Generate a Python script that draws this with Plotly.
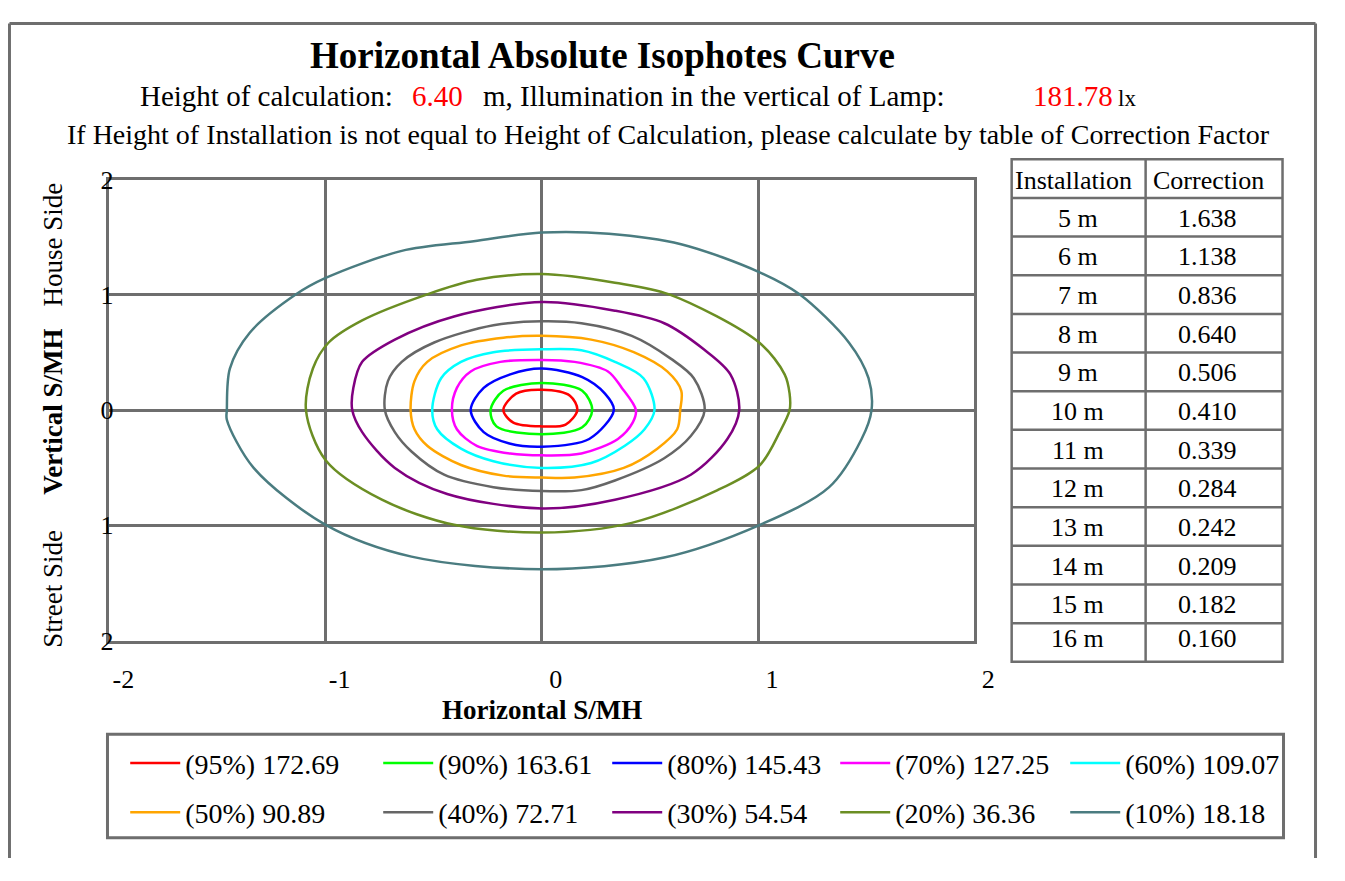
import plotly.graph_objects as go

# page is 1345x881; the browser keeps its default 8px body margin, so the figure is 16px smaller
PAGE_W, PAGE_H = 1345, 881
OFF = 8
FW, FH = PAGE_W - 2 * OFF, PAGE_H - 2 * OFF
FONT = "Liberation Serif"
GRID = "#6e6e6e"


def px(x):
    return (x - OFF) / FW


def py(y):
    return 1 - (y - OFF) / FH


# ---------------- data ----------------
level_labels = ["(95%) 172.69", "(90%) 163.61", "(80%) 145.43", "(70%) 127.25", "(60%) 109.07",
                "(50%) 90.89", "(40%) 72.71", "(30%) 54.54", "(20%) 36.36", "(10%) 18.18"]
level_colors = ["#ff0000", "#00ff00", "#0000ff", "#ff00ff", "#00ffff",
                "#ffa500", "#666666", "#800080", "#6b8e23", "#4a7c80"]

x_95 = [0.164, 0.13, 0.0, -0.119, -0.178, -0.132, 0.0, 0.11]
y_95 = [0.0, 0.125, 0.176, 0.142, 0.0, -0.109, -0.142, -0.126]

x_90 = [0.233, 0.187, 0.0, -0.178, -0.237, -0.21, 0.0, 0.187]
y_90 = [0.0, 0.167, 0.234, 0.167, 0.0, -0.142, -0.209, -0.15]

x_80 = [0.333, 0.292, 0.187, 0.0, -0.146, -0.269, -0.329, -0.269, -0.15, 0.0, 0.219]
y_80 = [0.0, 0.142, 0.285, 0.36, 0.31, 0.192, 0.0, -0.192, -0.29, -0.318, -0.251]

x_70 = [0.435, 0.37, 0.306, 0.151, 0.0, -0.192, -0.329, -0.393, -0.416, -0.393, -0.301, -0.146, 0.0, 0.183, 0.352, 0.42]
y_70 = [0.0, 0.192, 0.335, 0.418, 0.435, 0.418, 0.335, 0.192, 0.0, -0.167, -0.31, -0.377, -0.393, -0.377, -0.251, -0.11]

x_60 = [0.521, 0.47, 0.338, 0.183, 0.0, -0.224, -0.374, -0.466, -0.507, -0.484, -0.374, -0.224, 0.0, 0.228, 0.384, 0.475]
y_60 = [0.0, 0.276, 0.418, 0.519, 0.527, 0.502, 0.418, 0.276, 0.0, -0.167, -0.335, -0.444, -0.502, -0.46, -0.31, -0.167]

x_50 = [0.64, 0.645, 0.58, 0.425, 0.228, 0.0, -0.178, -0.374, -0.53, -0.589, -0.607, -0.589, -0.53, -0.374, -0.178, 0.0, 0.151, 0.379, 0.534, 0.626]
y_50 = [0.0, 0.167, 0.335, 0.502, 0.611, 0.644, 0.628, 0.561, 0.418, 0.251, 0.0, -0.167, -0.31, -0.477, -0.569, -0.586, -0.586, -0.502, -0.335, -0.167]

x_40 = [0.753, 0.703, 0.598, 0.416, 0.183, 0.0, -0.224, -0.498, -0.648, -0.712, -0.726, -0.68, -0.603, -0.452, -0.224, 0.0, 0.183, 0.338, 0.566, 0.689]
y_40 = [0.0, 0.276, 0.444, 0.644, 0.753, 0.77, 0.736, 0.586, 0.418, 0.251, 0.0, -0.192, -0.36, -0.561, -0.669, -0.703, -0.695, -0.611, -0.418, -0.226]

x_30 = [0.913, 0.872, 0.749, 0.566, 0.338, 0.0, -0.406, -0.68, -0.831, -0.872, -0.877, -0.831, -0.68, -0.438, 0.0, 0.338, 0.689, 0.858]
y_30 = [0.0, 0.31, 0.527, 0.753, 0.862, 0.937, 0.812, 0.611, 0.418, 0.192, 0.0, -0.192, -0.502, -0.728, -0.854, -0.778, -0.561, -0.251]

x_20 = [1.146, 1.146, 1.123, 1.005, 0.589, 0.338, 0.0, -0.301, -0.53, -0.831, -0.986, -1.059, -1.091, -1.0, -0.74, -0.406, 0.0, 0.416, 0.813, 1.009, 1.1]
y_20 = [0.0, 0.142, 0.31, 0.586, 1.004, 1.105, 1.18, 1.13, 1.004, 0.778, 0.586, 0.36, 0.0, -0.435, -0.778, -0.996, -1.063, -0.979, -0.695, -0.477, -0.192]

x_10 = [1.525, 1.511, 1.42, 1.192, 1.005, 0.644, 0.31, 0.0, -0.315, -0.648, -1.0, -1.137, -1.352, -1.443, -1.457, -1.457, -1.333, -1.0, -0.603, 0.0, 0.566, 1.009, 1.329, 1.479]
y_10 = [0.0, 0.276, 0.586, 1.004, 1.197, 1.439, 1.53, 1.54, 1.465, 1.381, 1.146, 1.004, 0.669, 0.36, 0.0, -0.084, -0.502, -0.996, -1.272, -1.381, -1.28, -0.996, -0.669, -0.251]

curves_x = [x_95, x_90, x_80, x_70, x_60, x_50, x_40, x_30, x_20, x_10]
curves_y = [y_95, y_90, y_80, y_70, y_60, y_50, y_40, y_30, y_20, y_10]

x_ticks = [-2, -1, 0, 1, 2]
x_tick_text = ["-2", "-1", "0", "1", "2"]
y_ticks = [2, 1, 0, -1, -2]
y_tick_text = ["2", "1", "0", "1", "2"]

table_header = ["Installation", "Correction"]
install_heights = ["5 m", "6 m", "7 m", "8 m", "9 m", "10 m", "11 m", "12 m", "13 m", "14 m", "15 m", "16 m"]
correction_factors = ["1.638", "1.138", "0.836", "0.640", "0.506", "0.410", "0.339", "0.284", "0.242", "0.209", "0.182", "0.160"]

calc_height = "6.40"
lamp_illum = "181.78"

# ---------------- figure ----------------
fig = go.Figure()

col_widths = [188, 164, 163, 165, 165]

order = list(range(len(level_labels)))[::-1]  # draw outer first, inner on top
for i in order:
    xs = curves_x[i] + curves_x[i][:1]
    ys = curves_y[i] + curves_y[i][:1]
    fig.add_trace(go.Scatter(
        x=xs, y=ys, mode="lines",
        name=level_labels[i],
        line=dict(color=level_colors[i], width=2.5, shape="spline", smoothing=0.9),
        legend="legend" if i < 5 else "legend2",
        legendrank=i,
        legendwidth=col_widths[i % 5],
        hoverinfo="skip",
    ))

annotations = []

annotations.append(dict(text="<b>Horizontal Absolute Isophotes Curve</b>", x=px(612), y=py(43),
                        xref="paper", yref="paper", showarrow=False, xanchor="center", yanchor="middle",
                        font=dict(family=FONT, size=37, color="black")))
sub_parts = [
    ("Height of calculation:", 140, "black", 29),
    (calc_height, 416, "#ff0000", 29),
    ("m, Illumination in the vertical of Lamp:", 488, "black", 29),
    (lamp_illum, 1047, "#ff0000", 29),
    ("lx", 1133, "black", 23),
]
for txt, xl, col, sz in sub_parts:
    annotations.append(dict(text=txt, x=px(xl), y=py(85 if sz > 25 else 87), xref="paper", yref="paper",
                            showarrow=False, xanchor="left", yanchor="middle",
                            font=dict(family=FONT, size=sz, color=col)))
annotations.append(dict(text="If Height of Installation is not equal to Height of Calculation, please calculate by table of Correction Factor",
                        x=px(679), y=py(124), xref="paper", yref="paper", showarrow=False,
                        xanchor="center", yanchor="middle", font=dict(family=FONT, size=28, color="black")))

annotations.append(dict(text="<b>Horizontal S/MH</b>", x=px(550), y=py(720), xref="paper", yref="paper",
                        showarrow=False, xanchor="center", yanchor="middle",
                        font=dict(family=FONT, size=27, color="black")))
for txt, yc in [("House Side", 238), ("<b>Vertical S/MH</b>", 411), ("Street Side", 594)]:
    annotations.append(dict(text=txt, x=px(54), y=py(yc), xref="paper", yref="paper", textangle=-90,
                            showarrow=False, xanchor="center", yanchor="middle",
                            font=dict(family=FONT, size=27, color="black")))

# correction-factor table
T_L, T_R, T_MID, T_TOP, T_BOT, ROW_H = 1027, 1302, 1163, 150, 670, 40
shapes = []
shapes.append(dict(type="rect", xref="paper", yref="paper", x0=px(T_L), x1=px(T_R), y0=py(T_BOT), y1=py(T_TOP),
                   line=dict(color=GRID, width=2.5)))
shapes.append(dict(type="line", xref="paper", yref="paper", x0=px(T_MID), x1=px(T_MID), y0=py(T_BOT), y1=py(T_TOP),
                   line=dict(color=GRID, width=2.5)))
for k in range(1, len(install_heights) + 1):
    yy = T_TOP + ROW_H * k
    shapes.append(dict(type="line", xref="paper", yref="paper", x0=px(T_L), x1=px(T_R), y0=py(yy), y1=py(yy),
                       line=dict(color=GRID, width=2.5)))
annotations.append(dict(text=table_header[0], x=px(1090), y=py(172), xref="paper", yref="paper", showarrow=False,
                        xanchor="center", yanchor="middle", font=dict(family=FONT, size=26, color="black")))
annotations.append(dict(text=table_header[1], x=px(1227), y=py(172), xref="paper", yref="paper", showarrow=False,
                        xanchor="center", yanchor="middle", font=dict(family=FONT, size=26, color="black")))
for k, (hgt, cf) in enumerate(zip(install_heights, correction_factors)):
    yc = T_TOP + ROW_H * (k + 1) + 21
    if k == len(install_heights) - 1:
        yc -= 5
    annotations.append(dict(text=hgt, x=px(1094), y=py(yc), xref="paper", yref="paper", showarrow=False,
                            xanchor="center", yanchor="middle", font=dict(family=FONT, size=26, color="black")))
    annotations.append(dict(text=cf, x=px(1226), y=py(yc), xref="paper", yref="paper", showarrow=False,
                            xanchor="center", yanchor="middle", font=dict(family=FONT, size=26, color="black")))

# outer frame (left, top, right; open at the bottom) kept inside the figure
fl, fr, ft = 1.5 / FW, 1 - 1.5 / FW, 1 - 1.5 / FH
for x0, y0, x1, y1 in [(fl, 0, fl, ft), (fl, ft, fr, ft), (fr, ft, fr, 0)]:
    shapes.append(dict(type="line", xref="paper", yref="paper", x0=x0, y0=y0, x1=x1, y1=y1,
                       line=dict(color=GRID, width=3)))
# legend frame
shapes.append(dict(type="rect", xref="paper", yref="paper", x0=px(109), x1=px(1303), y0=py(852), y1=py(745),
                   line=dict(color=GRID, width=3)))

legend_common = dict(orientation="h", xanchor="left", yanchor="middle", bgcolor="rgba(0,0,0,0)",
                     borderwidth=0, itemwidth=50, traceorder="normal",
                     font=dict(family=FONT, size=28, color="black"), itemclick=False, itemdoubleclick=False)

fig.update_layout(
    width=FW, height=FH,
    margin=dict(l=0, r=0, t=0, b=0),
    paper_bgcolor="white", plot_bgcolor="white",
    showlegend=True,
    legend=dict(x=px(127), y=py(775), **legend_common),
    legend2=dict(x=px(127), y=py(826), **legend_common),
    xaxis=dict(domain=[px(111), px(989)], range=[-2, 2], tickvals=x_ticks, ticktext=x_tick_text,
               showgrid=True, gridcolor=GRID, gridwidth=2.5, zeroline=False,
               showline=True, linecolor=GRID, linewidth=2.5, mirror=True, ticks="",
               tickfont=dict(family=FONT, size=26, color="black"),
               ticklabelshift=14, ticklabelstandoff=14, fixedrange=True),
    yaxis=dict(domain=[py(648), py(171)], range=[-2, 2], tickvals=y_ticks, ticktext=y_tick_text,
               showgrid=True, gridcolor=GRID, gridwidth=2.5, zeroline=False,
               showline=True, linecolor=GRID, linewidth=2.5, mirror=True, ticks="",
               tickfont=dict(family=FONT, size=26, color="black"),
               ticklabelstandoff=-12, fixedrange=True),
    annotations=annotations,
    shapes=shapes,
)

fig.write_html("out.html", config={"displayModeBar": False})
